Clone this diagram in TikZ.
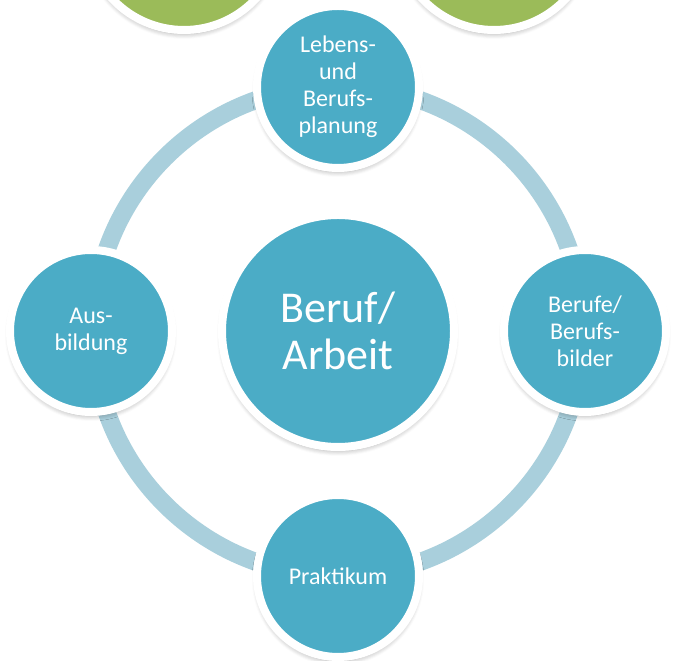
\documentclass[tikz,border=0pt]{standalone}
\usepackage{fontspec}
\setmainfont{Carlito}
\usetikzlibrary{shadows.blur}

\definecolor{aqua}{HTML}{4BACC6}
\definecolor{ringblue}{HTML}{A9CFDC}
\definecolor{olive}{HTML}{9BBB59}

\tikzset{
    bubble/.style={circle,fill=aqua,draw=white,line width=8pt,
        minimum size=162pt,inner sep=0pt,align=center,text=white,
        font=\fontsize{24}{27}\selectfont,
        blur shadow={shadow xshift=0pt,shadow yshift=-4pt,
            shadow blur steps=6,shadow blur radius=5pt,shadow opacity=35}},
    hub/.style={bubble,minimum size=232pt,
        font=\fontsize{44}{47}\selectfont},
    greenbubble/.style={bubble,fill=olive,minimum size=196pt}
}

\begin{document}
\begin{tikzpicture}[x=1pt,y=1pt]
                \useasboundingbox (0,0) rectangle (678,661);
                \clip (0,0) rectangle (678,661);

                \coordinate (O) at (338,330);
                \coordinate (T) at (338,574);
                \coordinate (L) at (91,330);
                \coordinate (R) at (585,330);
                \coordinate (B) at (338,85);

                % ring behind the circles
                \draw[ringblue,line width=18pt] (O) circle[radius=245];

                \node[greenbubble] (G1) at (184,729) {};
                \node[greenbubble] (G2) at (494,729) {};

                \node[bubble] (plan) at (T) {Lebens-\\und\\Berufs-\\planung};
                \node[bubble] (ausb) at (L) {Aus-\\bildung};
                \node[bubble] (bild) at (R) {Berufe/\\Berufs-\\bilder};
                \node[bubble] (prak) at (B) {Praktikum};

                \node[hub] (beruf) at (O) {Beruf/\\Arbeit};
            \end{tikzpicture}
\end{document}
